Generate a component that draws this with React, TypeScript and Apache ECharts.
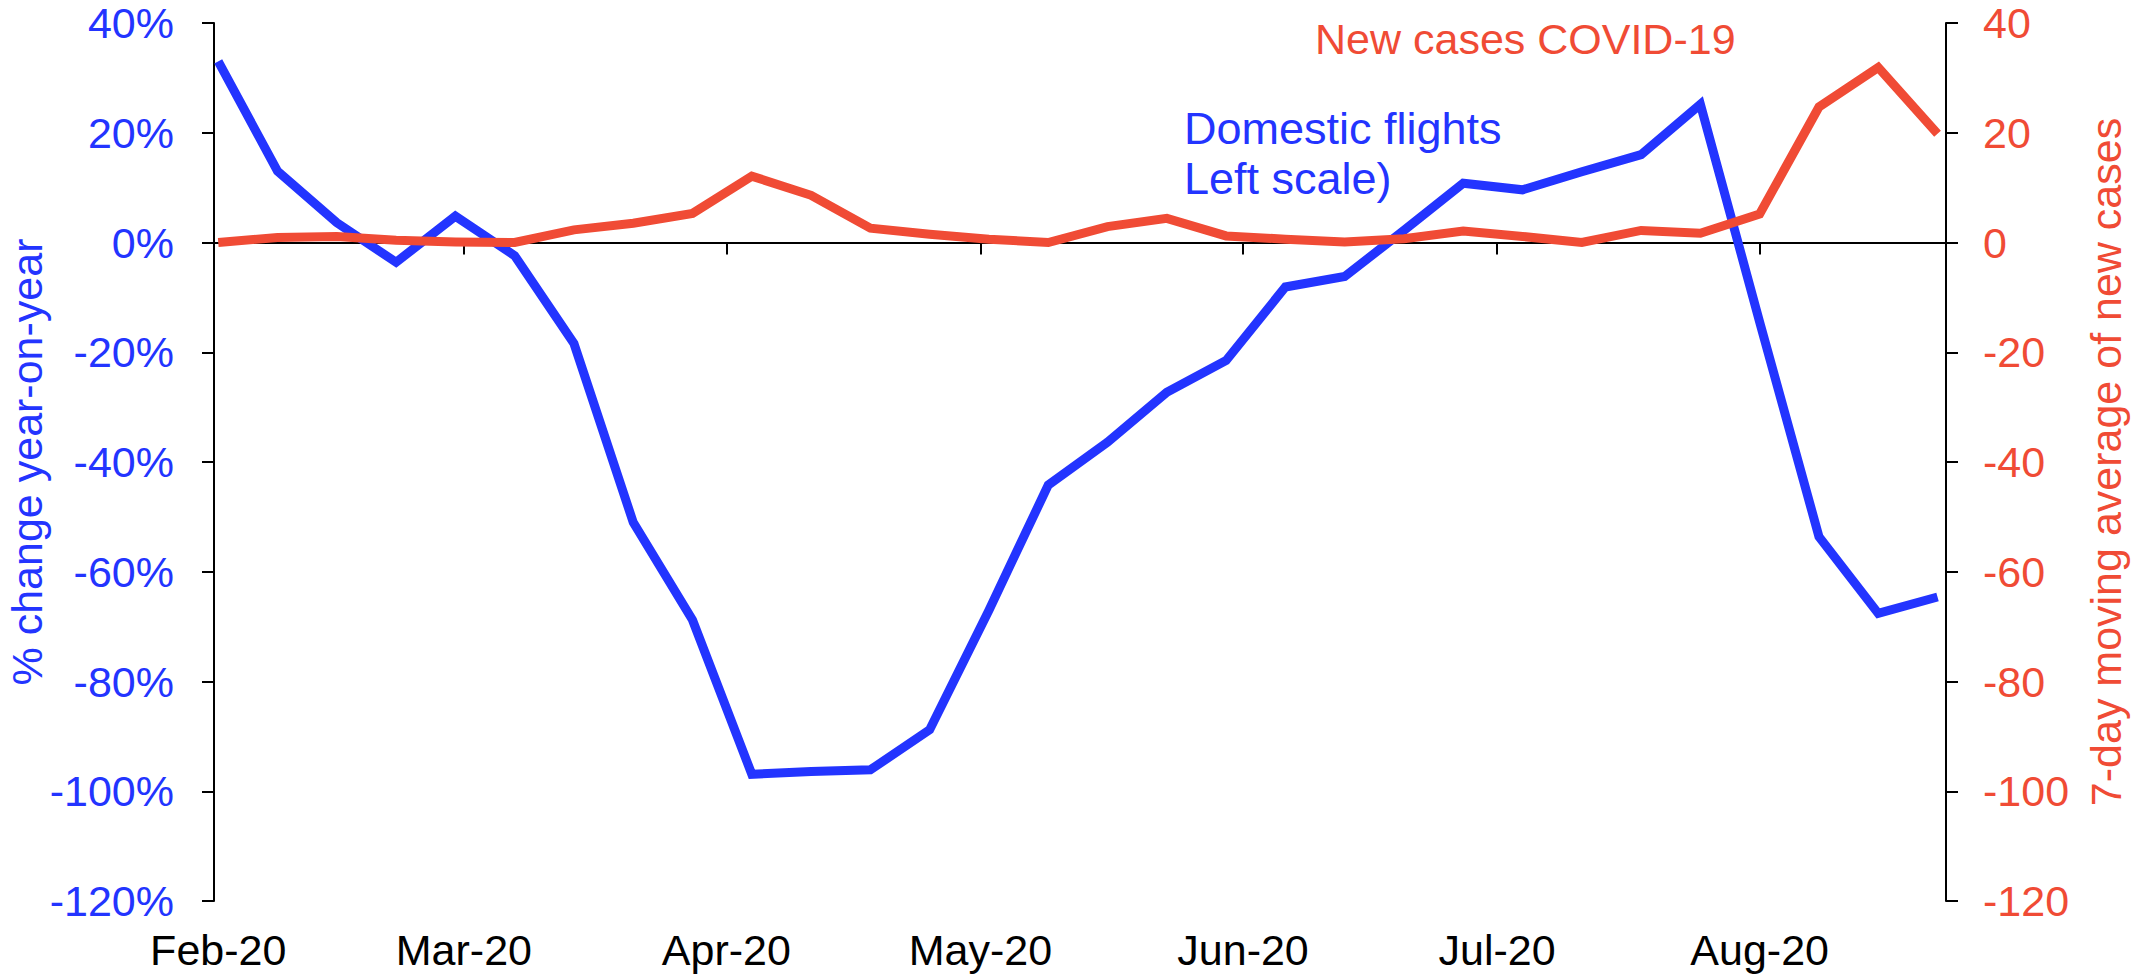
import React, { useEffect, useRef } from "react";
import * as echarts from "echarts";

// Weekly observation dates (week start)
const weekDates = [
  "2020-02-01", "2020-02-08", "2020-02-15", "2020-02-22", "2020-02-29",
  "2020-03-07", "2020-03-14", "2020-03-21", "2020-03-28", "2020-04-04",
  "2020-04-11", "2020-04-18", "2020-04-25", "2020-05-02", "2020-05-09",
  "2020-05-16", "2020-05-23", "2020-05-30", "2020-06-06", "2020-06-13",
  "2020-06-20", "2020-06-27", "2020-07-04", "2020-07-11", "2020-07-18",
  "2020-07-25", "2020-08-01", "2020-08-08", "2020-08-15", "2020-08-22",
];

// Domestic flights, % change year-on-year (left scale)
const domesticFlights = [
  33, 13, 3.6, -3.6, 4.8, -2.4, -18.4, -51, -68.8, -96.9,
  -96.4, -96.1, -88.8, -67, -44.2, -36.4, -27.3, -21.5, -8.1, -6.2,
  2.2, 10.8, 9.6, 12.9, 16, 25.2, -14.5, -53.6, -67.6, -64.6,
];

// New COVID-19 cases, 7-day moving average (right scale)
const newCases = [
  0, 0.9, 1.1, 0.4, 0.1, 0, 2.3, 3.5, 5.3, 12.1,
  8.6, 2.6, 1.5, 0.6, 0, 2.9, 4.4, 1.2, 0.6, 0.1,
  0.7, 2.1, 1.1, 0, 2.2, 1.7, 5.2, 24.7, 31.9, 19.8,
];

// Month tick positions and labels
const monthStarts = [
  "2020-02-01", "2020-03-01", "2020-04-01", "2020-05-01",
  "2020-06-01", "2020-07-01", "2020-08-01",
];
const monthLabels = ["Feb-20", "Mar-20", "Apr-20", "May-20", "Jun-20", "Jul-20", "Aug-20"];

const BLUE = "#2334FF";
const RED = "#F04B35";
const FONT = "'Liberation Sans', Arial, sans-serif";

const origin = Date.UTC(2020, 1, 1);
const dayOf = (s: string) => {
  const [y, m, d] = s.split("-").map(Number);
  return Math.round((Date.UTC(y, m - 1, d) - origin) / 86400000);
};

export default function App() {
  const ref = useRef<HTMLDivElement>(null);

  useEffect(() => {
    if (!ref.current) return;
    const chart = echarts.init(ref.current, undefined, { renderer: "svg" });

    const xs = weekDates.map(dayOf);
    const tickDays = monthStarts.map(dayOf);
    const labelMap: Record<number, string> = {};
    tickDays.forEach((d, i) => (labelMap[d] = monthLabels[i]));

    const xMin = -0.5;
    const xMax = 204;

    chart.setOption({
      animation: false,
      backgroundColor: "#ffffff",
      grid: {
        left: 214,
        right: 185,
        top: 23,
        bottom: 75,
        containLabel: false,
        outerBoundsMode: "none",
      },
      xAxis: [
        {
          type: "value",
          min: xMin,
          max: xMax,
          position: "bottom",
          axisLine: { show: false, onZero: false },
          axisTick: { show: false },
          splitLine: { show: false },
          axisLabel: {
            customValues: tickDays,
            formatter: (v: number) => labelMap[v] ?? "",
            color: "#000",
            fontSize: 43,
            lineHeight: 44,
            fontFamily: FONT,
            margin: 27,
          },
        },
        {
          type: "value",
          min: xMin,
          max: xMax,
          position: "bottom",
          axisLine: {
            show: true,
            onZero: true,
            onZeroAxisIndex: 0,
            lineStyle: { color: "#000", width: 2 },
          },
          axisTick: {
            show: true,
            customValues: tickDays.slice(1),
            inside: false,
            length: 12,
            lineStyle: { color: "#000", width: 2 },
          },
          axisLabel: { show: false },
          splitLine: { show: false },
        },
      ],
      yAxis: [
        {
          type: "value",
          min: -120,
          max: 40,
          interval: 20,
          position: "left",
          name: "% change year-on-year",
          nameLocation: "middle",
          nameGap: 166,
          nameMoveOverlap: false,
          nameTextStyle: { color: BLUE, fontSize: 43, lineHeight: 43, fontFamily: FONT },
          axisLine: { show: true, onZero: false, lineStyle: { color: "#000", width: 2 } },
          axisTick: { show: true, length: 12, lineStyle: { color: "#000", width: 2 } },
          splitLine: { show: false },
          axisLabel: {
            formatter: (v: number) => `${v}%`,
            color: BLUE,
            fontSize: 43,
            lineHeight: 36,
            fontFamily: FONT,
            margin: 40,
          },
        },
        {
          type: "value",
          min: -120,
          max: 40,
          interval: 20,
          position: "right",
          name: "7-day moving average of new cases",
          nameLocation: "middle",
          nameGap: 138,
          nameMoveOverlap: false,
          nameTextStyle: { color: RED, fontSize: 43, lineHeight: 43, fontFamily: FONT },
          axisLine: { show: true, onZero: false, lineStyle: { color: "#000", width: 2 } },
          axisTick: { show: true, length: 12, lineStyle: { color: "#000", width: 2 } },
          splitLine: { show: false },
          axisLabel: {
            color: RED,
            fontSize: 43,
            lineHeight: 36,
            fontFamily: FONT,
            margin: 37,
          },
        },
      ],
      series: [
        {
          name: "Domestic flights",
          type: "line",
          xAxisIndex: 0,
          yAxisIndex: 0,
          data: xs.map((x, i) => [x, domesticFlights[i]]),
          symbol: "none",
          lineStyle: { color: BLUE, width: 9, join: "miter" },
          z: 2,
        },
        {
          name: "New cases COVID-19",
          type: "line",
          xAxisIndex: 0,
          yAxisIndex: 1,
          data: xs.map((x, i) => [x, newCases[i]]),
          symbol: "none",
          lineStyle: { color: RED, width: 9, join: "miter" },
          z: 3,
        },
      ],
      graphic: [
        {
          type: "text",
          left: 1315,
          top: 17,
          style: { text: "New cases COVID-19", fill: RED, font: `43px ${FONT}` },
        },
        {
          type: "text",
          left: 1184,
          top: 106,
          style: { text: "Domestic flights", fill: BLUE, font: `45px ${FONT}` },
        },
        {
          type: "text",
          left: 1184,
          top: 156,
          style: { text: "Left scale)", fill: BLUE, font: `45px ${FONT}` },
        },
      ],
    });

    return () => chart.dispose();
  }, []);

  return (
    <div
      ref={ref}
      style={{ position: "fixed", left: 0, top: 0, width: 2131, height: 976, background: "#fff" }}
    />
  );
}
